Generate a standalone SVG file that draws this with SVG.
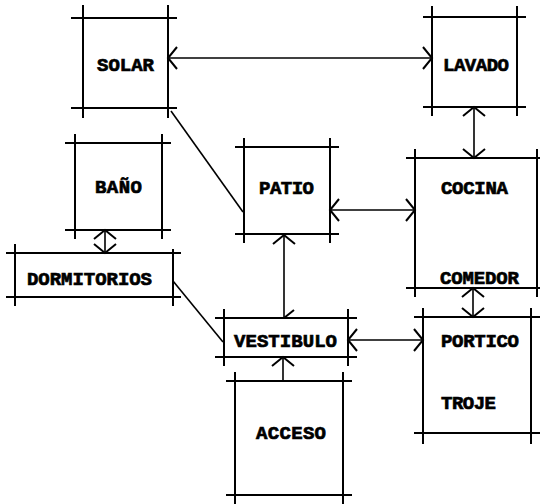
<svg xmlns="http://www.w3.org/2000/svg" width="540" height="504" viewBox="0 0 540 504">
<style>
.box{fill:none;stroke:#000;stroke-width:2;stroke-linecap:square}
.lbl{font-family:"Liberation Mono","DejaVu Sans Mono",monospace;font-weight:bold;font-size:19px;fill:#000;stroke:#000;stroke-width:0.7}
.con{fill:none;stroke:#000;stroke-width:1.6}
</style>
<defs>
<marker id="ah" markerUnits="userSpaceOnUse" markerWidth="30" markerHeight="30" refX="0" refY="0" viewBox="-15 -15 30 30" orient="auto-start-reverse" overflow="visible">
<path d="M -9,-11 L 0,0 L -9,11" fill="none" stroke="#000" stroke-width="2"/>
</marker>
</defs>
<rect width="540" height="504" fill="#fff"/>
<g id="solar">
<path class="box" d="M72,18 H176 M168,6 V117 M176,108 H72 M83,117 V6"/>
<text class="lbl" x="125.5" y="71" text-anchor="middle" textLength="57">SOLAR</text>
</g>
<g id="lavado">
<path class="box" d="M424,17 H525 M517,7 V115 M525,107 H424 M432,115 V7"/>
<text class="lbl" x="476" y="71" text-anchor="middle" textLength="66">LAVADO</text>
</g>
<g id="bano">
<path class="box" d="M66,143 H170 M162,135 V238 M170,230 H66 M75,238 V135"/>
<text class="lbl" x="118.5" y="193" text-anchor="middle" textLength="47">BAÑO</text>
</g>
<g id="dormitorios">
<path class="box" d="M7,253 H180 M173,250 V305 M180,297 H7 M15,305 V245"/>
<text class="lbl" x="89.5" y="285" text-anchor="middle" textLength="125">DORMITORIOS</text>
</g>
<g id="patio">
<path class="box" d="M236,147 H338 M330,139 V242 M338,234 H236 M244,242 V139"/>
<text class="lbl" x="286.5" y="194" text-anchor="middle" textLength="55">PATIO</text>
</g>
<g id="cocina">
<path class="box" d="M407,158 H540 M537,150 V296 M540,288 H407 M415,296 V150"/>
<text class="lbl" x="474.5" y="194" text-anchor="middle" textLength="67">COCINA</text>
<text class="lbl" x="479.5" y="284" text-anchor="middle" textLength="79">COMEDOR</text>
</g>
<g id="vestibulo">
<path class="box" d="M216,318 H356 M348,310 V365 M356,357 H216 M224,365 V310"/>
<text class="lbl" x="285.5" y="347" text-anchor="middle" textLength="103">VESTIBULO</text>
</g>
<g id="portico">
<path class="box" d="M415,317 H539 M531,309 V443 M539,433 H415 M423,443 V309"/>
<text class="lbl" x="480" y="347" text-anchor="middle" textLength="78">PORTICO</text>
<text class="lbl" x="441" y="409" textLength="55">TROJE</text>
</g>
<g id="acceso">
<path class="box" d="M227,381 H351 M343,373 V504 M351,495 H227 M235,504 V373"/>
<text class="lbl" x="291" y="439" text-anchor="middle" textLength="70">ACCESO</text>
</g>
<g id="connectors">
<path class="con" d="M168,58 H432" marker-start="url(#ah)" marker-end="url(#ah)"/>
<path class="con" d="M474,107 V158" marker-start="url(#ah)" marker-end="url(#ah)"/>
<path class="con" d="M330,210 H415" marker-start="url(#ah)" marker-end="url(#ah)"/>
<path class="con" d="M284,235 V318" marker-start="url(#ah)"/>
<path class="con" d="M284,318 L294,310" style="stroke-width:2"/>
<path class="con" d="M348,340 H423" marker-start="url(#ah)" marker-end="url(#ah)"/>
<path class="con" d="M473,288 V317" marker-start="url(#ah)" marker-end="url(#ah)"/>
<path class="con" d="M283,381 V357" marker-end="url(#ah)"/>
<path class="con" d="M105,230 V253" marker-start="url(#ah)" marker-end="url(#ah)"/>
<path class="con" d="M171,111 L243,212"/>
<path class="con" d="M173,281 L223,342"/>
</g>
</svg>
